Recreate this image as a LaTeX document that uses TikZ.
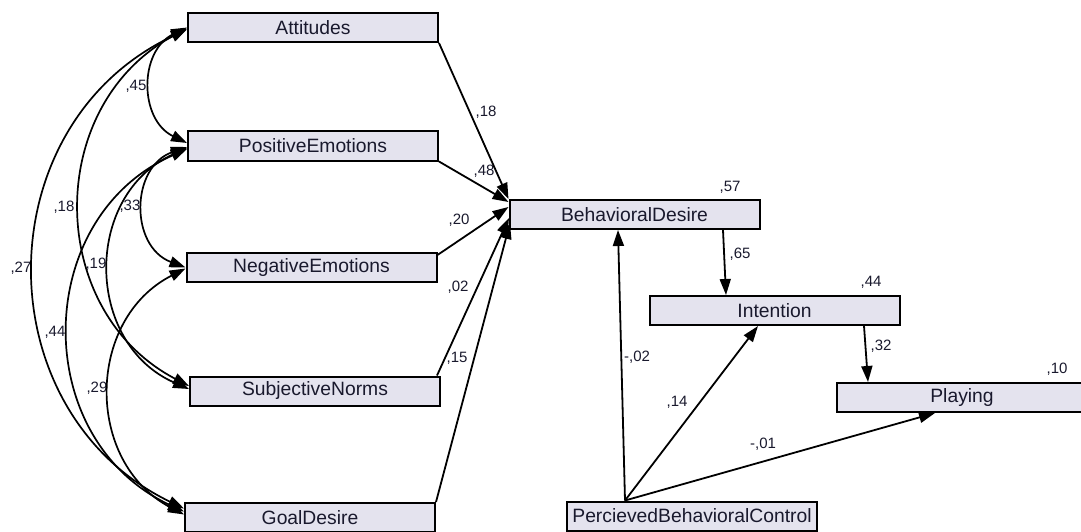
\documentclass[tikz,border=0pt]{standalone}
\usepackage{fontspec}
\setmainfont{Liberation Sans}
\usetikzlibrary{arrows.meta}
\definecolor{boxfill}{RGB}{228,227,238}
\definecolor{txt}{RGB}{25,25,45}
\begin{document}
\begin{tikzpicture}[x=1pt,y=-1pt,
  var/.style={draw=black, line width=2pt, fill=boxfill, minimum width=250pt, minimum height=29pt, inner sep=0pt, font=\fontsize{19.3}{22}\selectfont, text=txt},
  pth/.style={line width=1.8pt, -{Triangle[length=16pt,width=11pt]}},
  cov/.style={line width=1.7pt, {Triangle[length=16pt,width=11pt]}-{Triangle[length=16pt,width=11pt]}},
  lbl/.style={font=\fontsize{15}{17}\selectfont, inner sep=0pt, text=txt}]
\useasboundingbox (0,0) rectangle (1081,532);
% boxes
\node[var] (att) at (313,27.5) {Attitudes};
\node[var] (pe) at (313,146) {PositiveEmotions};
\node[var] (ne) at (311.5,267.5) {NegativeEmotions};
\node[var] (sn) at (315,391) {SubjectiveNorms};
\node[var] (gd) at (310,517.5) {GoalDesire};
\node[var] (bd) at (634.5,214.5) {BehavioralDesire};
\node[var] (int) at (774.5,310.5) {Intention};
\node[var] (play) at (962,397.5) {Playing};
\node[var] (pbc) at (692,516) {PercievedBehavioralControl};
% labels
\node[lbl] (l1) at (486,112) {,18};
\node[lbl] (l2) at (484,171) {,48};
\node[lbl] (l3) at (459,220) {,20};
\node[lbl] (l4) at (458,287) {,02};
\node[lbl] (l5) at (457,358) {,15};
\node[lbl] (l6) at (730,187) {,57};
\node[lbl] (l7) at (740,254) {,65};
\node[lbl] (l8) at (871,282) {,44};
\node[lbl] (l9) at (881,346) {,32};
\node[lbl] (l10) at (1057,369) {,10};
\node[lbl] (l11) at (637,357) {-,02};
\node[lbl] (l12) at (677,402) {,14};
\node[lbl] (l13) at (763,444) {-,01};
\node[lbl] (c1) at (136,86) {,45};
\node[lbl] (c2) at (64,207) {,18};
\node[lbl] (c3) at (130,206) {,33};
\node[lbl] (c4) at (21,268) {,27};
\node[lbl] (c5) at (96,264) {,19};
\node[lbl] (c6) at (55,332) {,44};
\node[lbl] (c7) at (97,388) {,29};
% regression paths
\draw[pth] (att.south east) -- (bd.north west);
\draw[pth] (pe.south east) -- ([yshift=-3pt]bd.north west);
\draw[pth] ([yshift=-3pt]ne.north east) -- ([yshift=-8pt]bd.north west);
\draw[pth] ([xshift=-4pt]sn.north east) -- ([yshift=-19pt,xshift=0.5pt]bd.north west);
\draw[pth] (gd.north east) -- ([yshift=-24pt,xshift=1.5pt]bd.north west);
\draw[pth] ([xshift=88.5pt]bd.south) -- ([xshift=-48.5pt]int.north);
\draw[pth] ([xshift=89.5pt]int.south) -- ([xshift=-94pt]play.north);
\coordinate (pbcout) at ([xshift=-67pt]pbc.north);
\draw[pth] (pbcout) -- ([xshift=-16.5pt]bd.south);
\draw[pth] (pbcout) -- ([xshift=-16.5pt]int.south);
\draw[pth] (pbcout) -- ([xshift=-27pt]play.south);
% covariances
\draw[cov] (att.west) to[bend right=64, looseness=1.19] ([yshift=3pt]pe.west);
\draw[cov] ([yshift=-1pt]pe.west) to[bend right=70, looseness=1.27] (ne.west);
\draw[cov] ([yshift=-1pt]att.west) to[bend right=62, looseness=1.16] ([yshift=5pt]sn.west);
\draw[cov] ([yshift=-2pt]att.west) to[bend right=64.5, looseness=1.19] ([yshift=9pt]gd.west);
\draw[cov] ([yshift=-2pt]pe.west) to[bend right=66, looseness=1.21] ([yshift=2pt]sn.west);
\draw[cov] ([yshift=-3pt]pe.west) to[bend right=65.6, looseness=1.2] ([yshift=6pt]gd.west);
\draw[cov] ([yshift=-1pt]ne.west) to[bend right=62.6, looseness=1.165] ([yshift=3pt]gd.west);
\end{tikzpicture}
\end{document}
